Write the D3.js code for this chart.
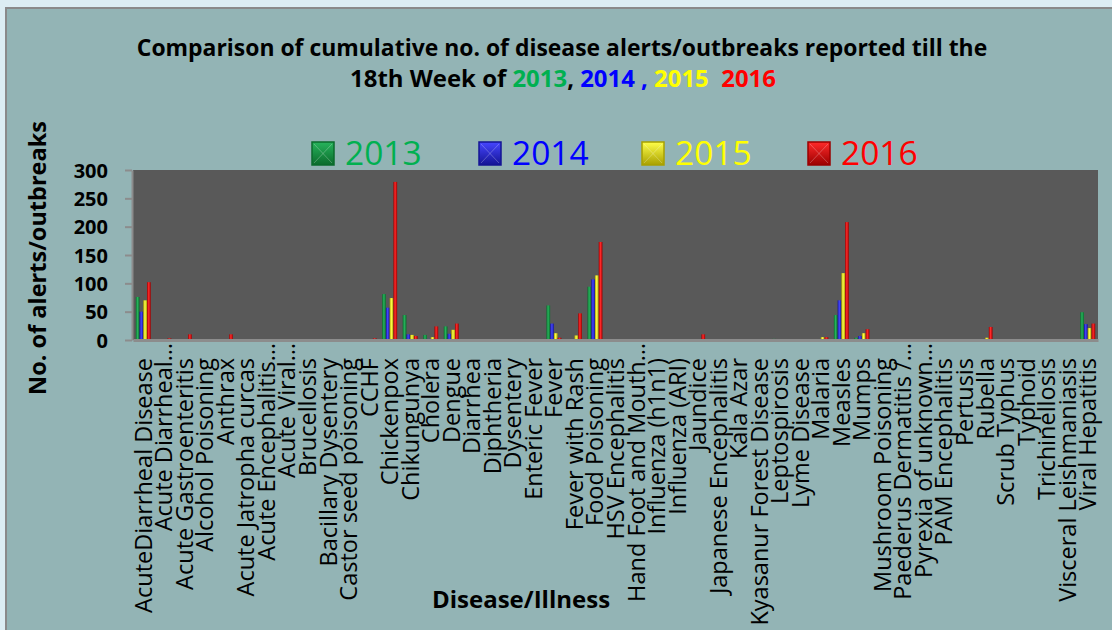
<!DOCTYPE html>
<html>
<head>
<meta charset="utf-8">
<script src="https://cdn.jsdelivr.net/npm/d3@7"></script>
<style>
  html, body { margin: 0; padding: 0; background: #dcedf3; }
  svg { display: block; }
</style>
</head>
<body>
<svg id="chart" width="1112" height="630"></svg>
<script>
const categories = [
  "AcuteDiarrheal Disease", "Acute Diarrheal…", "Acute Gastroenteritis", "Alcohol Poisoning", "Anthrax",
  "Acute Jatropha curcas", "Acute Encephalitis…", "Acute Viral…", "Brucellosis", "Bacillary Dysentery",
  "Castor seed poisoning", "CCHF", "Chickenpox", "Chikungunya", "Cholera", "Dengue", "Diarrhea",
  "Diphtheria", "Dysentery", "Enteric Fever", "Fever", "Fever with Rash", "Food Poisoning",
  "HSV Encephalitis", "Hand Foot and Mouth…", "Influenza (h1n1)", "Influenza (ARI)", "Jaundice",
  "Japanese Encephalitis", "Kala Azar", "Kyasanur Forest Disease", "Leptospirosis", "Lyme Disease",
  "Malaria", "Measles", "Mumps", "Mushroom Poisoning", "Paederus Dermatitis /…", "Pyrexia of unknown…",
  "PAM Encephalitis", "Pertusis", "Rubella", "Scrub Typhus", "Typhoid", "Trichinellosis",
  "Visceral Leishmaniasis", "Viral Hepatitis"
];
const seriesNames = ["2013", "2014", "2015", "2016"];
const values2013 = [76,1,0,0,0, 0,0,0,0,0, 0,0,81,44,9, 24,0,0,0,0, 61,0,94,0,0, 1,0,0,0,0, 0,2,0,1,44, 4,0,0,0,0, 0,1,0,0,0, 0,49];
const values2014 = [50,0,0,0,0, 0,0,0,0,0, 0,0,57,10,2, 11,0,1,0,1, 29,0,107,0,0, 0,0,0,0,0, 1,0,0,1,70, 7,0,0,0,0, 0,0,0,0,1, 0,28];
const values2015 = [70,0,1,1,1, 1,0,0,0,0, 1,1,74,9,5, 18,1,0,1,0, 12,8,114,0,0, 1,0,1,1,1, 1,1,0,5,118, 12,1,0,0,0, 0,4,0,1,0, 0,21];
const values2016 = [102,3,10,0,10, 0,0,0,0,0, 0,3,279,7,24, 29,0,1,1,1, 4,47,173,1,0, 0,1,10,1,0, 0,1,0,5,208, 19,1,0,0,0, 0,23,0,0,0, 1,29];
const yTicks = [0, 50, 100, 150, 200, 250, 300];

const seriesValues = [values2013, values2014, values2015, values2016];
const seriesColors = ["#00b050", "#0000ff", "#ffff00", "#ff0000"];
const barDark  = ["#0b6b2c", "#141494", "#a8a000", "#9a0000"];
const barLight = ["#27b35c", "#4646ff", "#ffff4a", "#ff2a2a"];

const svg = d3.select("#chart");
const W = 1112, H = 630;

// outer frame
svg.append("rect").attr("x", 0).attr("y", 0).attr("width", W).attr("height", H).attr("fill", "#dcedf3");
svg.append("rect").attr("x", 5).attr("y", 7).attr("width", W).attr("height", H).attr("fill", "#8a8a8a");
svg.append("rect").attr("x", 7).attr("y", 9).attr("width", W).attr("height", H).attr("fill", "#93b4b5");

const defs = svg.append("defs");
seriesNames.forEach((s, i) => {
  const g = defs.append("linearGradient").attr("id", "grad" + i)
    .attr("x1", "0%").attr("x2", "100%").attr("y1", "0%").attr("y2", "0%");
  g.append("stop").attr("offset", "0%").attr("stop-color", barDark[i]);
  g.append("stop").attr("offset", "45%").attr("stop-color", barLight[i]);
  g.append("stop").attr("offset", "100%").attr("stop-color", barDark[i]);
  const lg = defs.append("linearGradient").attr("id", "lgrad" + i)
    .attr("x1", "0%").attr("x2", "0%").attr("y1", "0%").attr("y2", "100%");
  lg.append("stop").attr("offset", "0%").attr("stop-color", barLight[i]);
  lg.append("stop").attr("offset", "100%").attr("stop-color", barDark[i]);
});

const plot = { left: 133, right: 1098, top: 170, bottom: 340 };

const x0 = d3.scaleBand().domain(categories).range([plot.left, plot.right])
  .paddingInner(0.27).paddingOuter(0.135);
const x1 = d3.scaleBand().domain(seriesNames).range([0, x0.bandwidth()]);
const y = d3.scaleLinear().domain([0, 300]).range([plot.bottom, plot.top]);

// plot area
svg.append("rect").attr("x", plot.left).attr("y", plot.top)
  .attr("width", plot.right - plot.left).attr("height", plot.bottom - plot.top)
  .attr("fill", "#595959");

// bars
const groups = svg.append("g").selectAll("g").data(categories).join("g")
  .attr("transform", d => `translate(${x0(d)},0)`);
groups.selectAll("rect")
  .data((c, ci) => seriesNames.map((s, si) => ({ s, si, v: seriesValues[si][ci] })))
  .join("rect")
  .attr("x", d => x1(d.s))
  .attr("width", x1.bandwidth())
  .attr("y", d => y(d.v))
  .attr("height", d => y(0) - y(d.v))
  .attr("fill", d => `url(#grad${d.si})`);

// y axis
const yAxis = svg.append("g").attr("transform", `translate(${plot.left - 1},0)`)
  .call(d3.axisLeft(y).tickValues(yTicks).tickSize(7).tickPadding(17).tickSizeOuter(0));
yAxis.select(".domain").attr("stroke", "#8c8c8c").attr("stroke-width", 2);
yAxis.selectAll(".tick line").attr("stroke", "#8c8c8c").attr("stroke-width", 2);
yAxis.selectAll(".tick text")
  .attr("font-family", "'Open Sans', sans-serif").attr("font-weight", "bold")
  .attr("font-size", 20).attr("fill", "#000").attr("dy", "0.36em");

// x axis
const xAxis = svg.append("g").attr("transform", `translate(0,${plot.bottom})`)
  .call(d3.axisBottom(x0).tickSize(0).tickSizeOuter(0));
xAxis.select(".domain").attr("stroke", "#8c8c8c").attr("stroke-width", 3);
xAxis.selectAll(".tick text")
  .attr("font-family", "'Open Sans', sans-serif").attr("font-size", 23.5).attr("fill", "#000")
  .attr("transform", "rotate(-90)")
  .attr("text-anchor", "end")
  .attr("x", d => d.endsWith("…") ? -3 : -18)
  .attr("y", 0)
  .attr("dy", "0.36em");

// titles
function fitWidth(sel, targetW, cx) {
  const w = sel.node().getComputedTextLength();
  const k = targetW / w;
  sel.attr("transform", `translate(${cx},0) scale(${k},1) translate(${-cx},0)`);
}
const t1 = svg.append("text").attr("x", 562).attr("y", 56).attr("text-anchor", "middle")
  .attr("font-family", "'Open Sans', sans-serif").attr("font-weight", "bold").attr("font-size", 23.5)
  .text("Comparison of cumulative no. of disease alerts/outbreaks reported till the");
fitWidth(t1, 851, 562);

const t2 = svg.append("text").attr("x", 563).attr("y", 87).attr("text-anchor", "middle")
  .attr("font-family", "'Open Sans', sans-serif").attr("font-weight", "bold").attr("font-size", 23.5)
  .attr("xml:space", "preserve");
t2.append("tspan").attr("fill", "#000").text("18th Week of ");
t2.append("tspan").attr("fill", seriesColors[0]).text("2013");
t2.append("tspan").attr("fill", "#000").text(", ");
t2.append("tspan").attr("fill", seriesColors[1]).text("2014 , ");
t2.append("tspan").attr("fill", seriesColors[2]).text("2015  ");
t2.append("tspan").attr("fill", seriesColors[3]).text("2016");
fitWidth(t2, 426, 563);

// y title
svg.append("text").attr("transform", "translate(46,258) rotate(-90)").attr("text-anchor", "middle")
  .attr("font-family", "'Open Sans', sans-serif").attr("font-weight", "bold").attr("font-size", 23.5)
  .attr("fill", "#000").text("No. of alerts/outbreaks");

// x title
svg.append("text").attr("x", 521).attr("y", 608).attr("text-anchor", "middle")
  .attr("font-family", "'Open Sans', sans-serif").attr("font-weight", "bold").attr("font-size", 24)
  .attr("fill", "#000").text("Disease/Illness");

// legend
const legendX = [312, 479, 642, 808];
const leg = svg.append("g").selectAll("g").data(seriesNames).join("g")
  .attr("transform", (d, i) => `translate(${legendX[i]},142)`);
leg.append("rect").attr("width", 22).attr("height", 23)
  .attr("fill", (d, i) => `url(#lgrad${i})`)
  .attr("stroke", (d, i) => barDark[i]).attr("stroke-width", 1.5);
leg.append("path").attr("d", "M2,2 L11,11.5 L20,2 M2,21 L11,11.5 L20,21")
  .attr("stroke", "rgba(255,255,255,0.25)").attr("fill", "none");
leg.append("text").attr("x", 33).attr("y", 23)
  .attr("font-family", "'Open Sans', sans-serif").attr("font-size", 33.5)
  .attr("fill", (d, i) => seriesColors[i]).text(d => d);
</script>
</body>
</html>
